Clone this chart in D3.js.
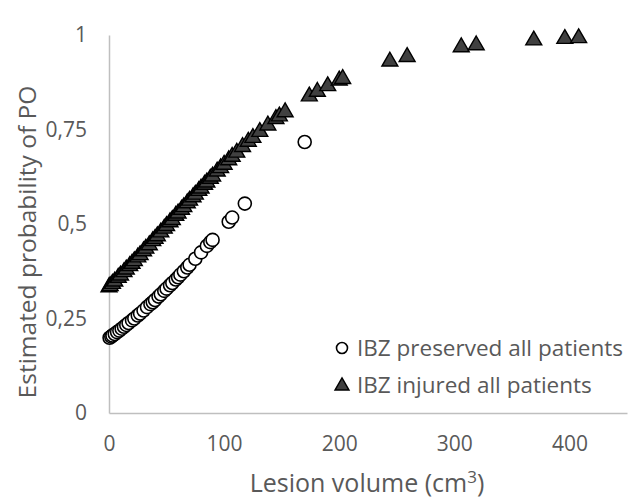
<!DOCTYPE html>
<html>
<head>
<meta charset="utf-8">
<script src="https://cdn.jsdelivr.net/npm/d3@7"></script>
<style>
  html, body { margin: 0; padding: 0; background: #fff; }
  text { font-family: "Open Sans", "Noto Sans", sans-serif; }
</style>
</head>
<body>
<svg id="chart" width="633" height="500"></svg>
<script>
// ---- data ----
const xTicks = [0, 100, 200, 300, 400];
const yTicks = [0, 0.25, 0.5, 0.75, 1];
const yTickLabels = ["0", "0,25", "0,5", "0,75", "1"];
const seriesNames = ["IBZ preserved all patients", "IBZ injured all patients"];

const preservedVolume = [0.5, 2, 3, 5, 7, 9, 11, 13, 15, 17, 20, 22, 25, 27, 30, 33, 36, 38, 40, 43, 45, 48, 50, 53, 55, 58, 60, 62, 65, 68, 70, 75, 80, 85, 88, 90, 104, 107, 118, 170];
const preservedProb = [0.199, 0.202, 0.205, 0.209, 0.214, 0.218, 0.223, 0.228, 0.233, 0.238, 0.245, 0.250, 0.258, 0.263, 0.271, 0.280, 0.288, 0.293, 0.299, 0.308, 0.314, 0.323, 0.329, 0.338, 0.344, 0.353, 0.359, 0.366, 0.375, 0.385, 0.392, 0.408, 0.425, 0.442, 0.452, 0.458, 0.506, 0.517, 0.554, 0.717];

const injuredVolume = [0, 1, 3, 5, 8, 10, 13, 15, 18, 20, 22, 25, 27, 30, 32, 35, 38, 40, 42, 45, 48, 50, 53, 55, 58, 60, 63, 65, 68, 70, 73, 75, 78, 80, 83, 85, 88, 90, 94, 97, 100, 104, 107, 111, 116, 121, 125, 131, 138, 145, 148, 153, 174, 181, 190, 200, 203, 244, 259, 306, 319, 369, 396, 408];
const injuredProb = [0.333, 0.336, 0.342, 0.348, 0.358, 0.364, 0.373, 0.380, 0.389, 0.395, 0.402, 0.412, 0.418, 0.428, 0.435, 0.444, 0.455, 0.461, 0.468, 0.478, 0.488, 0.495, 0.505, 0.511, 0.522, 0.528, 0.538, 0.545, 0.555, 0.562, 0.571, 0.578, 0.588, 0.594, 0.604, 0.610, 0.620, 0.626, 0.639, 0.648, 0.657, 0.669, 0.678, 0.689, 0.704, 0.718, 0.728, 0.744, 0.761, 0.778, 0.785, 0.796, 0.838, 0.850, 0.865, 0.880, 0.884, 0.930, 0.942, 0.968, 0.973, 0.986, 0.990, 0.992];

// ---- layout ----
const svg = d3.select("#chart");
const plotLeft = 109, plotRight = 627, plotTop = 35, plotBottom = 413;
const x = d3.scaleLinear().domain([0, 450]).range([plotLeft, plotRight]);
const y = d3.scaleLinear().domain([0, 1]).range([plotBottom, plotTop]);
const axisColor = "#bfbfbf";
const labelColor = "#595959";

// x axis
const gx = svg.append("g").attr("transform", `translate(0,${plotBottom})`)
  .call(d3.axisBottom(x).tickValues(xTicks).tickSize(0).tickPadding(23).tickFormat(d3.format("d")));
gx.select(".domain").attr("stroke", axisColor).attr("stroke-width", 1.5);
gx.selectAll("text").attr("fill", labelColor).style("font-size", "21px")
  .style("font-family", '"Open Sans", sans-serif');

// y axis
const gy = svg.append("g").attr("transform", `translate(${plotLeft},0)`)
  .call(d3.axisLeft(y).tickValues(yTicks).tickSize(0).tickPadding(22)
    .tickFormat((d, i) => yTickLabels[i]));
gy.select(".domain").attr("stroke", axisColor).attr("stroke-width", 1.5);
gy.selectAll("text").attr("fill", labelColor).style("font-size", "21px")
  .style("font-family", '"Open Sans", sans-serif');

// axis titles
svg.append("text")
  .attr("transform", `translate(36,242) rotate(-90)`)
  .attr("text-anchor", "middle")
  .attr("fill", labelColor)
  .style("font-size", "24.5px")
  .text("Estimated probability of PO");

const xt = svg.append("text")
  .attr("x", 367)
  .attr("y", 492)
  .attr("text-anchor", "middle")
  .attr("fill", labelColor)
  .style("font-size", "25px");
xt.append("tspan").text("Lesion volume (cm");
xt.append("tspan").attr("dy", -9).style("font-size", "17px").text("3");
xt.append("tspan").attr("dy", 9).text(")");

// marks
const tri = d3.symbol().type(d3.symbolTriangle).size(110);

svg.append("g").selectAll("circle")
  .data(preservedVolume.map((v, i) => [v, preservedProb[i]]))
  .join("circle")
  .attr("cx", d => x(d[0]))
  .attr("cy", d => y(d[1]))
  .attr("r", 6.5)
  .attr("fill", "#fff")
  .attr("stroke", "#000")
  .attr("stroke-width", 1.6);

svg.append("g").selectAll("path")
  .data(injuredVolume.map((v, i) => [v, injuredProb[i]]))
  .join("path")
  .attr("d", tri)
  .attr("transform", d => `translate(${x(d[0])},${y(d[1])})`)
  .attr("fill", "#404040")
  .attr("stroke", "#000")
  .attr("stroke-width", 1.4);

// legend
const lg = svg.append("g");
lg.append("circle").attr("cx", 342).attr("cy", 348).attr("r", 5.5)
  .attr("fill", "#fff").attr("stroke", "#000").attr("stroke-width", 1.6);
lg.append("path").attr("d", d3.symbol().type(d3.symbolTriangle).size(85)())
  .attr("transform", "translate(342,386)")
  .attr("fill", "#404040").attr("stroke", "#000").attr("stroke-width", 1.4);
lg.append("text").attr("x", 357).attr("y", 356).attr("fill", labelColor)
  .style("font-size", "22.5px").text(seriesNames[0]);
lg.append("text").attr("x", 357).attr("y", 393).attr("fill", labelColor)
  .style("font-size", "22.5px").text(seriesNames[1]);
</script>
</body>
</html>
